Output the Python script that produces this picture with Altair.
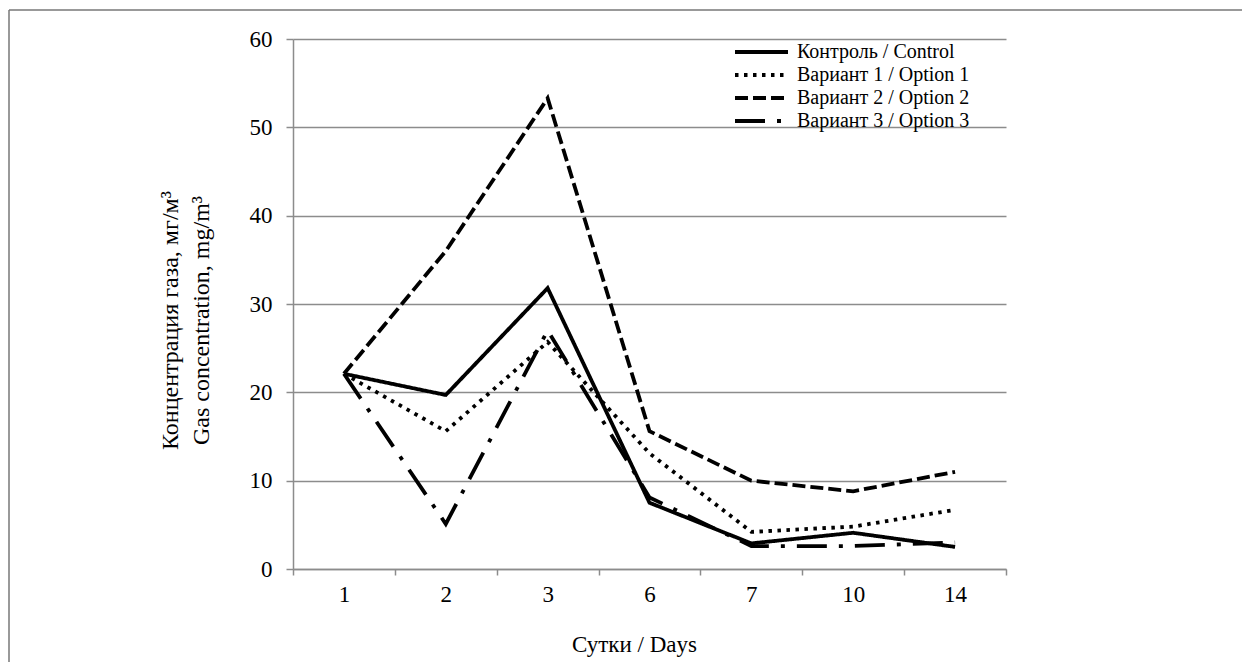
import altair as alt
import pandas as pd

days = ["1", "2", "3", "6", "7", "10", "14"]
series_names = ["Контроль / Control", "Вариант 1 / Option 1",
                "Вариант 2 / Option 2", "Вариант 3 / Option 3"]
control = [22.1, 19.7, 31.8, 7.5, 2.9, 4.1, 2.5]
option1 = [22.1, 15.6, 25.7, 13.1, 4.2, 4.8, 6.7]
option2 = [22.1, 36.0, 53.3, 15.6, 10.0, 8.8, 11.0]
option3 = [22.1, 5.1, 27.0, 8.1, 2.6, 2.6, 3.0]
y_ticks = [0, 10, 20, 30, 40, 50, 60]

rows = []
for name, vals in zip(series_names, [control, option1, option2, option3]):
    for d, v in zip(days, vals):
        rows.append({"day": d, "value": v, "series": name})
df = pd.DataFrame(rows)

FONT = "'Liberation Serif', 'Times New Roman', Times, serif"
GRAY = "#8c8c8c"

lines = alt.Chart(df).mark_line(strokeWidth=3.8, color="black", strokeCap="butt").encode(
    x=alt.X("day:O", sort=days, bandPosition=0.5,
            scale=alt.Scale(type="band", domain=days, paddingInner=0, paddingOuter=0),
            axis=alt.Axis(title="Сутки / Days", labelAngle=0, tickBand="extent",
                          tickSize=6, labelPadding=8, labelFontSize=23,
                          titleFontSize=23, titleFontWeight="normal",
                          titleX=341, titleY=82, titleBaseline="alphabetic",
                          titleAlign="center", labelFont=FONT, titleFont=FONT,
                          domainColor=GRAY, tickColor=GRAY, domainWidth=1.5, tickWidth=1.5,
                          grid=False)),
    y=alt.Y("value:Q", scale=alt.Scale(domain=[0, 60], nice=False),
            axis=alt.Axis(values=y_ticks, title=["Концентрация газа, мг/м³", "Gas concentration, mg/m³"],
                          tickSize=7, labelPadding=14, labelFontSize=23,
                          titleFontSize=24, titleFontWeight="normal", titleLineHeight=31,
                          titleAngle=-90, titleX=-116, titleY=281,
                          titleBaseline="alphabetic", titleAlign="center",
                          labelFont=FONT, titleFont=FONT,
                          domainColor=GRAY, tickColor=GRAY, domainWidth=1.5, tickWidth=1.5,
                          gridColor=GRAY, gridWidth=1.5)),
    strokeDash=alt.StrokeDash("series:N",
                              scale=alt.Scale(domain=series_names,
                                              range=[[1, 0], [3.5, 5.5], [13, 5], [30, 12, 4, 12]]),
                              legend=alt.Legend(title=None, orient="none", legendX=440, legendY=3,
                                                symbolType="stroke", symbolSize=2809,
                                                symbolStrokeWidth=3.8, symbolStrokeColor="black",
                                                clipHeight=20, rowPadding=3, labelOffset=7,
                                                labelFontSize=20, labelFont=FONT, padding=0,
                                                labelLimit=400)),
    order=alt.Order("day_idx:Q"),
).transform_calculate(
    day_idx="indexof(" + str(days) + ", datum.day)"
)

frame_df = pd.DataFrame({"k": [0]})
frame_top = alt.Chart(frame_df).mark_rule(color="#777777", strokeWidth=1.5).encode(
    x=alt.value(-284), x2=alt.value(960), y=alt.value(-29))
frame_left = alt.Chart(frame_df).mark_rule(color="#777777", strokeWidth=1.5).encode(
    x=alt.value(-284), y=alt.value(-29), y2=alt.value(640))

chart = alt.layer(frame_top, frame_left, lines).properties(
    width=713, height=530,
    autosize=alt.AutoSizeParams(type="none"),
    padding={"left": 285, "top": 31, "right": 236, "bottom": 93},
    background="white",
).configure(font=FONT).configure_view(strokeWidth=0).configure_axis(
    labelColor="black", titleColor="black"
).configure_legend(labelColor="black")

chart.save("out.html", embed_options={"renderer": "svg", "actions": False})
